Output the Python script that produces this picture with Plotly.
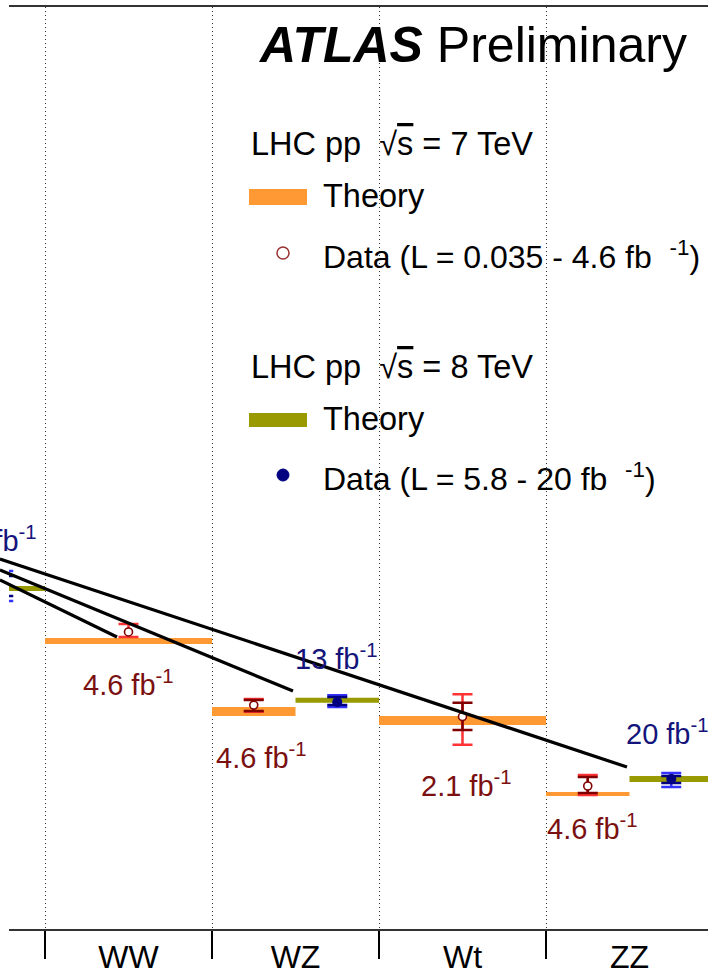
import numpy as np
import plotly.graph_objects as go

# ---------------- processes (one cell per process) ----------------
# a shared cell holds the 7 TeV result in its left half and 8 TeV in its right half
categories = ["t<sub>t-chan</sub>", "WW", "WZ", "Wt", "ZZ"]
shared_cell = [True, False, True, False, True]

# ---------------- sqrt(s) = 7 TeV, sigma [pb] ----------------
proc7 = ["WW", "WZ", "Wt", "ZZ"]
theory7 = [46.8, 19.0, 16.9, 6.61]
theory7_lo = [45.0, 17.9, 15.97, 6.44]
theory7_hi = [48.6, 20.1, 17.9, 6.78]
data7 = [52.5, 20.6, 17.8, 7.32]
data7_tot_lo = [49.2, 18.9, 12.4, 6.52]
data7_tot_hi = [58.1, 22.3, 23.7, 8.43]
data7_stat_lo = [None, 19.1, 14.98, 6.69]
data7_stat_hi = [None, 22.0, 21.2, 8.21]
lumi7 = ["4.6", "4.6", "2.1", "4.6"]

# ---------------- sqrt(s) = 8 TeV, sigma [pb] ----------------
proc8 = ["t<sub>t-chan</sub>", "WZ", "ZZ"]
theory8 = [91.5, 21.9, 8.0]
theory8_lo = [88.7, 21.2, 7.70]
theory8_hi = [94.5, 22.6, 8.32]
data8 = [94.5, 21.4, 8.0]
data8_tot_lo = [78.0, 20.1, 7.22]
data8_tot_hi = [114.5, 23.4, 8.64]
data8_stat_lo = [83.2, 20.6, 7.60]
data8_stat_hi = [107.4, 22.85, 8.32]
lumi8 = ["5.8", "13", "20"]

# ---------------- leader lines (x in cell units, sigma in pb) ----------------
lead_x0 = [-0.27, -0.27, -0.27]
lead_y0 = [133.6, 116.0, 102.1]
lead_x1 = [3.485, 1.485, 0.431]
lead_y1 = [9.33, 24.67, 49.2]

# ---------------- styling ----------------
FONT = "Liberation Sans, Arial, Helvetica, sans-serif"
C_TH7, C_TH8 = "#ff9933", "#999900"
C_TOT7, C_STAT7 = "#ff3333", "#800000"
C_TOT8, C_STAT8 = "#3333ff", "#000080"
C_TXT7, C_TXT8 = "#7a1010", "#14147a"

# pixel offsets of the luminosity labels from their theory band (dx right, dy down)
lab7_dx, lab7_dy = [0, 8, 3.5, 5], [42.5, 44.5, 63, 33]
lab8_dx, lab8_dy = [-12, -1, -4], [-50, -43, -47.5]

W, H = 708, 978
M_T, M_B = 7, 49
X_RANGE = [-0.2156, 3.9701]       # main plot area
X2_RANGE = [-0.2695, 3.9701]      # full-width overlay for the leader lines
Y_RANGE = [0.07, 0.07 + 922 / 180]  # log10(sigma / pb)


def span(proc, energy):
    i = categories.index(proc)
    left = i - 1
    if shared_cell[i]:
        return (left, left + 0.5) if energy == 7 else (left + 0.5, left + 1.0)
    return (left, left + 1.0)


def centre(proc, energy):
    a, b = span(proc, energy)
    return 0.5 * (a + b)


def band(procs, lo, hi, energy, color):
    xs, ys = [], []
    for p, l, h in zip(procs, lo, hi):
        x0, x1 = span(p, energy)
        xs += [x0, x1, x1, x0, x0, None]
        ys += [l, l, h, h, l, None]
    return go.Scatter(x=xs, y=ys, mode="lines", fill="toself", fillcolor=color,
                      line=dict(width=0, color=color), hoverinfo="skip",
                      showlegend=False)


def errors(procs, val, lo, hi, energy, color, marker, thick=2.2, half=10):
    keep = [k for k in range(len(procs)) if lo[k] is not None]
    xs = [centre(procs[k], energy) for k in keep]
    ys = [val[k] for k in keep]
    plus = [hi[k] - val[k] for k in keep]
    minus = [val[k] - lo[k] for k in keep]
    return go.Scatter(x=xs, y=ys, mode="markers", marker=marker,
                      error_y=dict(type="data", symmetric=False, array=plus,
                                   arrayminus=minus, color=color,
                                   thickness=thick, width=half),
                      hoverinfo="skip", showlegend=False)


fig = go.Figure()

# theory predictions
fig.add_trace(band(proc7, theory7_lo, theory7_hi, 7, C_TH7))
fig.add_trace(band(proc8, theory8_lo, theory8_hi, 8, C_TH8))

# measurements: total uncertainty, then statistical with the point on top
hidden = dict(size=1, color="rgba(0,0,0,0)")
fig.add_trace(errors(proc7, data7, data7_tot_lo, data7_tot_hi, 7, C_TOT7, hidden, 2.5))
fig.add_trace(errors(proc8, data8, data8_tot_lo, data8_tot_hi, 8, C_TOT8, hidden, 2.5))
fig.add_trace(errors(proc7, data7, data7_stat_lo, data7_stat_hi, 7, C_STAT7, hidden, 2.5))
fig.add_trace(errors(proc8, data8, data8_stat_lo, data8_stat_hi, 8, C_STAT8, hidden, 2.5))
fig.add_trace(go.Scatter(x=[centre(p, 7) for p in proc7], y=data7, mode="markers",
                         marker=dict(symbol="circle", size=8, color="white",
                                     line=dict(color=C_STAT7, width=1.6)),
                         hoverinfo="skip", showlegend=False))
fig.add_trace(go.Scatter(x=[centre(p, 8) for p in proc8], y=data8, mode="markers",
                         marker=dict(symbol="circle", size=10, color=C_STAT8,
                                     line=dict(width=0)),
                         hoverinfo="skip", showlegend=False))

# leader lines on the full-width overlay
for xa, ya, xb, yb in zip(lead_x0, lead_y0, lead_x1, lead_y1):
    fig.add_trace(go.Scatter(x=[xa, xb], y=[ya, yb], mode="lines",
                             line=dict(color="black", width=3.2),
                             xaxis="x2", yaxis="y2", hoverinfo="skip",
                             showlegend=False))

# luminosity labels
ann = []
for p, t, lum, dx, dy in zip(proc7, theory7, lumi7, lab7_dx, lab7_dy):
    ann.append(dict(x=centre(p, 7), y=np.log10(t), xref="x2", yref="y2",
                    text=f"{lum} fb<sup>-1</sup>", showarrow=False,
                    xanchor="center", yanchor="middle", xshift=dx, yshift=-dy,
                    font=dict(family=FONT, size=29, color=C_TXT7)))
for p, t, lum, dx, dy in zip(proc8, theory8, lumi8, lab8_dx, lab8_dy):
    ann.append(dict(x=centre(p, 8), y=np.log10(t), xref="x2", yref="y2",
                    text=f"{lum} fb<sup>-1</sup>", showarrow=False,
                    xanchor="center", yanchor="middle", xshift=dx, yshift=-dy,
                    font=dict(family=FONT, size=29, color=C_TXT8)))


# ---------------- header and key (paper coordinates) ----------------
def px(x):
    return x / W


def py(y):
    return (H - M_B - y) / (H - M_B - M_T)


def text(x, y, s, size=32.5, anchor="left"):
    ann.append(dict(x=px(x), y=py(y), xref="paper", yref="paper", text=s,
                    showarrow=False, xanchor=anchor, yanchor="middle",
                    font=dict(family=FONT, size=size, color="black")))


root_s = "\u221a<span style='text-decoration:overline'>s</span>"
text(256, 45, "<b><i>ATLAS</i></b> Preliminary", size=50)
text(249, 144, f"LHC pp\u00a0 {root_s} = 7 TeV")
text(321, 196, "Theory")
text(321, 255, "Data (L = 0.035 - 4.6 fb\u00a0 <sup>-1</sup>)", size=32)
text(249, 367, f"LHC pp\u00a0 {root_s} = 8 TeV")
text(321, 419, "Theory")
text(321, 477, "Data (L = 5.8 - 20 fb\u00a0 <sup>-1</sup>)", size=32)

shapes = [
    dict(type="rect", xref="paper", yref="paper", x0=px(249), x1=px(307),
         y0=py(205), y1=py(189), fillcolor=C_TH7, line=dict(width=0)),
    dict(type="rect", xref="paper", yref="paper", x0=px(249), x1=px(307),
         y0=py(427), y1=py(413), fillcolor=C_TH8, line=dict(width=0)),
    dict(type="circle", xref="paper", yref="paper", x0=px(277), x1=px(289),
         y0=py(259), y1=py(247), fillcolor="white",
         line=dict(color="#993333", width=1.5)),
    dict(type="circle", xref="paper", yref="paper", x0=px(277), x1=px(289),
         y0=py(481), y1=py(469), fillcolor=C_STAT8,
         line=dict(color=C_STAT8, width=1)),
]

fig.update_layout(
    width=W, height=H,
    margin=dict(l=0, r=0, t=M_T, b=M_B, pad=0),
    paper_bgcolor="white", plot_bgcolor="rgba(0,0,0,0)",
    font=dict(family=FONT, color="black"),
    showlegend=False,
    annotations=ann, shapes=shapes,
    xaxis=dict(domain=[9 / W, 1], range=X_RANGE, anchor="y",
               tickmode="array", tickvals=[i - 0.5 for i in range(len(categories))],
               ticktext=categories, ticks="", showgrid=False, zeroline=False,
               tickfont=dict(family=FONT, size=32, color="black"),
               ticklabelstandoff=-2,
               showline=True, mirror=True, linecolor="#333333", linewidth=2.2,
               minor=dict(tickmode="array", tickvals=list(range(len(categories) - 1)),
                          ticks="outside", ticklen=28, tickwidth=1.5,
                          tickcolor="black", showgrid=True,
                          gridcolor="#333333", gridwidth=1.2,
                          griddash="1.3px,2.7px")),
    yaxis=dict(domain=[0, 1], type="log", range=Y_RANGE, anchor="x",
               visible=False, showgrid=False),
    xaxis2=dict(domain=[0, 1], range=X2_RANGE, anchor="y2", visible=False,
                showgrid=False),
    yaxis2=dict(domain=[0, 1], type="log", range=Y_RANGE, anchor="x2",
                visible=False, showgrid=False),
)

fig.write_html("out.html")
